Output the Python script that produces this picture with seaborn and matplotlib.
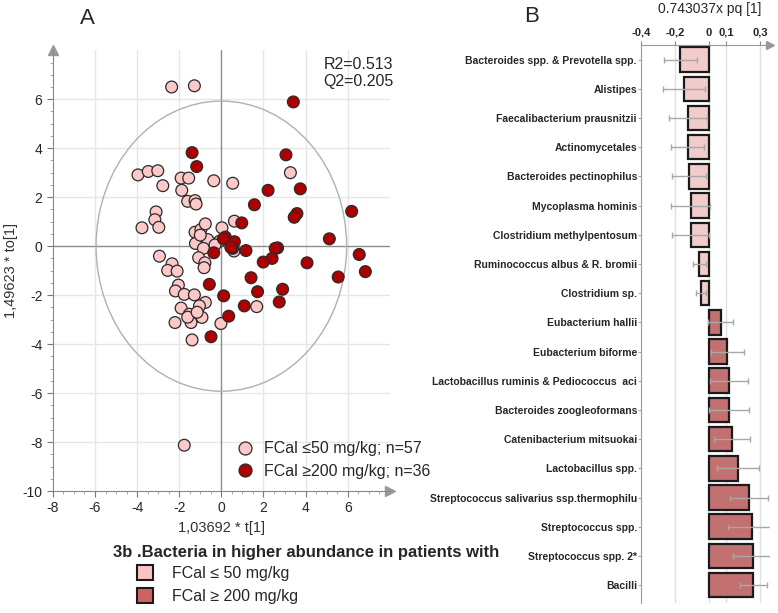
import matplotlib
matplotlib.use('Agg')
import matplotlib.pyplot as plt
from matplotlib.patches import Ellipse, Patch
from matplotlib.ticker import MultipleLocator
import numpy as np
import pandas as pd
import seaborn as sns

# --- panel A: OPLS-DA scores ---
low_x = [-2.36, -1.28, 3.28, -3.96, -3.47, -3.02, -2.78, -1.91, -1.55, -1.88,
         -0.36, 0.54, -1.6, -1.25, -1.2, -3.1, -3.16, -3.77, -2.97, -1.25,
         -0.97, -0.76, 0.03, 0.62, -1.23, -0.65, -0.09, -0.85, -1.08, -0.78,
         -0.82, -2.94, -2.34, -2.55, -2.1, 0.55, -2.04, -2.18, -1.76, -1.28,
         -0.76, -1.04, -1.91, -1.52, -1.08, -0.92, -1.44, -2.2, -0.02, -1.39,
         1.68, -1.76, -1.6, -1.15, -1.0, -0.3, 0.6]
low_y = [6.5, 6.55, 3.0, 2.91, 3.05, 3.08, 2.47, 2.78, 2.78, 2.28,
         2.67, 2.57, 1.83, 1.86, 1.72, 1.4, 1.08, 0.75, 0.77, 0.57,
         0.68, 0.91, 0.75, 1.02, 0.11, 0.27, 0.2, -0.09, -0.47, -0.68,
         -0.88, -0.41, -0.72, -0.99, -1.02, -0.1, -1.59, -1.83, -1.97, -1.99,
         -2.3, -2.44, -2.53, -2.78, -2.85, -2.91, -3.12, -3.12, -3.16, -3.83,
         -2.47, -8.13, -2.9, -2.7, 0.45, 0.05, -0.2]
high_x = [3.42, -1.39, -1.17, 3.07, 3.75, 2.22, 1.57, 3.59, 3.46, 6.19,
          0.97, 5.13, 0.19, 0.62, 0.54, 1.17, -0.36, 2.67, 2.56, 2.41,
          1.99, 4.07, 6.55, 6.84, 5.55, 1.41, -0.57, 1.72, 2.91, 0.11,
          1.09, 2.75, 0.35, -0.49, 0.1, 0.45]
high_y = [5.89, 3.82, 3.25, 3.73, 2.34, 2.28, 1.69, 1.33, 1.18, 1.42,
          0.95, 0.3, 0.37, 0.18, -0.09, -0.18, -0.27, -0.07, -0.09, -0.5,
          -0.65, -0.68, -0.34, -1.04, -1.26, -1.29, -1.56, -1.86, -1.76, -2.03,
          -2.44, -2.28, -2.86, -3.7, 0.3, -0.05]
groups = ['FCal \u226450 mg/kg; n=57', 'FCal \u2265200 mg/kg; n=36']

# --- panel B: loadings ---
bacteria = ['Bacteroides spp. & Prevotella spp.', 'Alistipes',
            'Faecalibacterium prausnitzii', 'Actinomycetales',
            'Bacteroides pectinophilus', 'Mycoplasma hominis',
            'Clostridium methylpentosum', 'Ruminococcus albus & R. bromii',
            'Clostridium sp.', 'Eubacterium hallii', 'Eubacterium biforme',
            'Lactobacillus ruminis & Pediococcus  aci',
            'Bacteroides zoogleoformans', 'Catenibacterium mitsuokai',
            'Lactobacillus spp.', 'Streptococcus salivarius ssp.thermophilu',
            'Streptococcus spp.', 'Streptococcus spp. 2*', 'Bacilli']
pq = [-0.17, -0.147, -0.124, -0.124, -0.12, -0.108, -0.108, -0.057, -0.049,
      0.069, 0.108, 0.117, 0.117, 0.133, 0.169, 0.237, 0.251, 0.261, 0.261]
pq_err = [0.097, 0.126, 0.11, 0.097, 0.1, 0.115, 0.11, 0.04, 0.03,
          0.074, 0.098, 0.11, 0.118, 0.106, 0.125, 0.112, 0.137, 0.12, 0.081]

pink = '#FDC8C8'
red = '#AE0000'
bar_pink = '#F9C4C4'
bar_red = '#D06262'

sns.set_style('white')
plt.rcParams['font.family'] = ['Liberation Sans', 'DejaVu Sans']
plt.rcParams['axes.unicode_minus'] = False

fig = plt.figure(figsize=(7.78, 6.13), dpi=100)
axA = fig.add_axes([0.068, 0.199, 0.433, 0.719])
axB = fig.add_axes([0.824, 0.016, 0.166, 0.911])

scores = pd.DataFrame({
    'x': low_x + high_x,
    'y': low_y + high_y,
    'group': [groups[0]] * len(low_x) + [groups[1]] * len(high_x),
})

for v in [-6, -4, -2, 2, 4, 6]:
    axA.axvline(v, color='#e6e6e6', lw=1, zorder=0)
for v in [6, 4, 2, -2, -4, -6, -8]:
    axA.axhline(v, color='#e6e6e6', lw=1, zorder=0)
axA.axvline(0, color='#8c8c8c', lw=1, zorder=1)
axA.axhline(0, color='#8c8c8c', lw=1, zorder=1)
axA.add_patch(Ellipse((0, 0), 11.9, 11.85, fill=False, ec='#b0b0b0', lw=1, zorder=1))

sns.scatterplot(data=scores, x='x', y='y', hue='group',
                palette={groups[0]: pink, groups[1]: red},
                s=72, edgecolor='#2a2a2a', linewidth=0.9, ax=axA, zorder=3)

axA.set_xlim(-8, 8)
axA.set_ylim(-10, 8)
axA.set_xticks(range(-8, 7, 2))
axA.set_yticks(range(-10, 7, 2))
axA.xaxis.set_minor_locator(MultipleLocator(0.5))
axA.yaxis.set_minor_locator(MultipleLocator(0.5))
axA.tick_params(which='major', direction='out', length=4, color='#777777',
                labelsize=10, bottom=True, left=True)
axA.tick_params(which='minor', direction='out', length=2, color='#999999',
                bottom=True, left=True)
for side in ['top', 'right']:
    axA.spines[side].set_visible(False)
for side in ['left', 'bottom']:
    axA.spines[side].set_color('#888888')
axA.plot(1, 0, '>', color='#999999', ms=7, transform=axA.transAxes, clip_on=False)
axA.plot(0, 1, '^', color='#999999', ms=7, transform=axA.transAxes, clip_on=False)
axA.set_xlabel('1,03692 * t[1]', fontsize=10.5, color='#333333', labelpad=4)
axA.set_ylabel('1,49623 * to[1]', fontsize=10.5, color='#333333', labelpad=3)
axA.text(1.01, 0.985, 'R2=0.513\nQ2=0.205', transform=axA.transAxes,
         ha='right', va='top', fontsize=11.5, linespacing=1.15)
axA.legend(loc='lower left', bbox_to_anchor=(0.5, 0.01), frameon=False,
           fontsize=11.5, handletextpad=0.15, borderpad=0, labelspacing=0.45,
           markerscale=1.1)

fig.text(80 / 778, 1 - 18 / 613, 'A', fontsize=16, ha='left', va='center')
fig.text(524 / 778, 1 - 16 / 613, 'B', fontsize=16, ha='left', va='center')

# --- panel B ---
loads = pd.DataFrame({'bacteria': bacteria, 'pq': pq,
                      'side': ['low' if v < 0 else 'high' for v in pq]})
sns.barplot(data=loads, x='pq', y='bacteria', hue='side', orient='h',
            palette={'low': bar_pink, 'high': bar_red}, dodge=False,
            edgecolor='#1a1a1a', linewidth=1.6, width=0.84, legend=False,
            errorbar=None, ax=axB, zorder=2)
axB.errorbar(pq, np.arange(len(bacteria)), xerr=pq_err, fmt='none',
             ecolor='#a8a8a8', elinewidth=1, capsize=2.5, zorder=3)
for v in [-0.2, 0, 0.1, 0.3]:
    axB.axvline(v, color='#e0e0e0', lw=1, zorder=0)
axB.set_xlim(-0.4, 0.36)
axB.set_ylim(18.62, -0.51)
axB.set_xticks([-0.4, -0.2, 0, 0.1, 0.3])
axB.set_xticklabels(['-0,4', '-0,2', '0', '0,1', '0,3'], fontweight='bold')
axB.xaxis.tick_top()
axB.tick_params(axis='x', top=True, direction='out', length=3, color='#888888',
                labelsize=8, pad=2)
axB.tick_params(axis='y', left=True, direction='out', length=2, color='#aaaaaa',
                labelsize=7.5, pad=1)
for lab in axB.get_yticklabels():
    lab.set_fontweight('bold')
axB.set_xlabel('')
axB.set_ylabel('')
for side in ['bottom', 'right']:
    axB.spines[side].set_visible(False)
for side in ['left', 'top']:
    axB.spines[side].set_color('#999999')
axB.plot(1, 1, '>', color='#999999', ms=6, transform=axB.transAxes, clip_on=False)
fig.text(710 / 778, 1 - 9 / 613, '0.743037x pq [1]', fontsize=10, ha='center',
         va='center')

# --- bottom legend ---
fig.text(113 / 778, 1 - 553 / 613,
         '3b .Bacteria in higher abundance in patients with',
         fontsize=12, fontweight='bold', ha='left', va='center')
fig.legend(handles=[Patch(facecolor=bar_pink, edgecolor='#1a1a1a', lw=1.5),
                    Patch(facecolor=bar_red, edgecolor='#1a1a1a', lw=1.5)],
           labels=['FCal \u2264 50 mg/kg', 'FCal \u2265 200 mg/kg'],
           loc='upper left', bbox_to_anchor=(137 / 778, 1 - 565 / 613),
           frameon=False, fontsize=11.5, handlelength=1.0, handleheight=1.05,
           handletextpad=1.2, labelspacing=0.45, borderpad=0, borderaxespad=0)

fig.savefig('out.png', dpi=100)
